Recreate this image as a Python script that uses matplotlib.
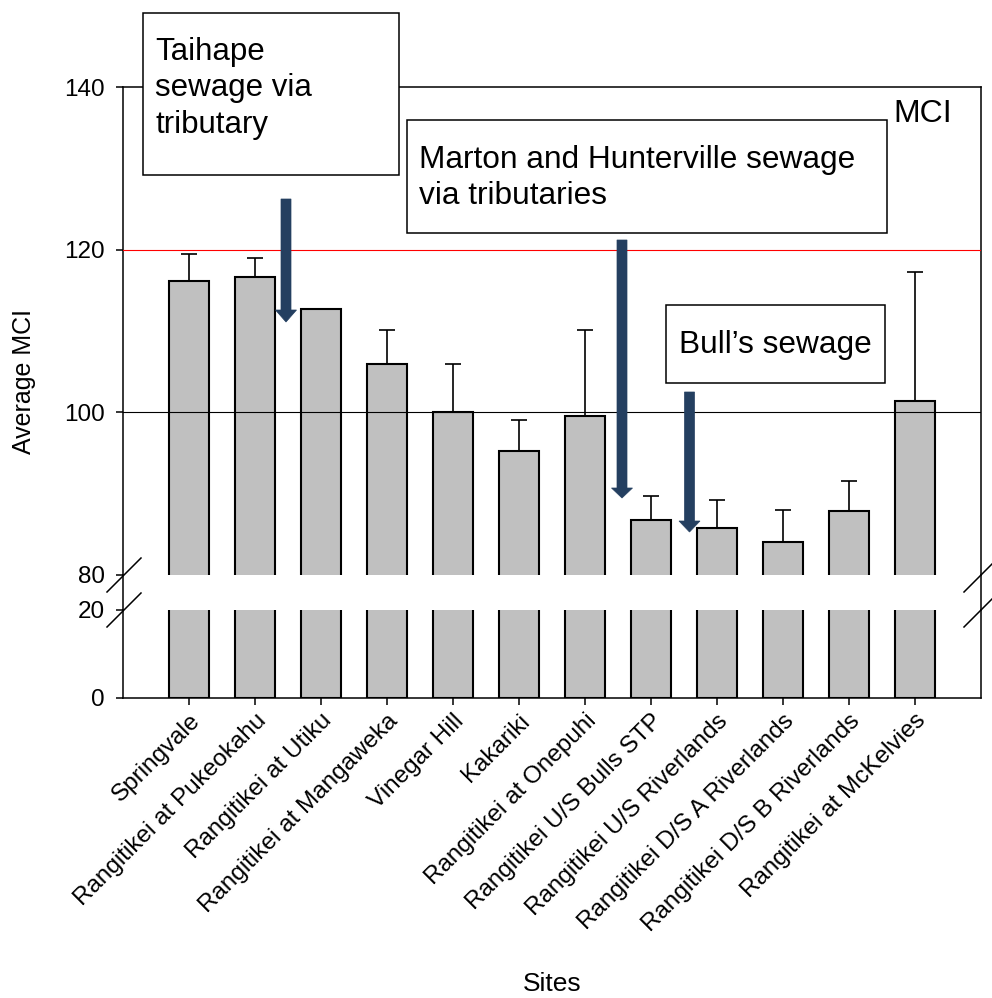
import matplotlib
matplotlib.use("Agg")
import matplotlib.pyplot as plt
from matplotlib.patches import Rectangle, Polygon
from matplotlib.lines import Line2D
import numpy as np

plt.rcParams['font.family'] = ['Liberation Sans', 'DejaVu Sans']

sites = ["Springvale", "Rangitikei at Pukeokahu", "Rangitikei at Utiku",
         "Rangitikei at Mangaweka", "Vinegar Hill", "Kakariki",
         "Rangitikei at Onepuhi", "Rangitikei U/S Bulls STP",
         "Rangitikei U/S Riverlands", "Rangitikei D/S A Riverlands",
         "Rangitikei D/S B Riverlands", "Rangitikei at McKelvies"]
mci_mean = [116.1, 116.7, 112.7, 105.9, 100.1, 95.2, 99.6, 86.8, 85.8, 84.0, 87.9, 101.4]
mci_err = [3.4, 2.25, np.nan, 4.2, 5.8, 3.8, 10.5, 2.9, 3.4, 4.0, 3.6, 15.8]
upper_ticks = [80, 100, 120, 140]
lower_ticks = [0, 20]
ref_good = 120
ref_fair = 100

W, H = 992, 998
fig = plt.figure(figsize=(W / 100, H / 100), dpi=100)

def fx(x):
    return x / W

def fy(y):
    return 1 - y / H

left, right = 123, 981
up_top, up_bot = 87, 575
lo_top, lo_bot = 610, 698

ax_up = fig.add_axes([fx(left), fy(up_bot), fx(right) - fx(left), fy(up_top) - fy(up_bot)])
ax_lo = fig.add_axes([fx(left), fy(lo_bot), fx(right) - fx(left), fy(lo_top) - fy(lo_bot)])

x = np.arange(len(sites))
err = np.array(mci_err)
mask = ~np.isnan(err)
for ax in (ax_up, ax_lo):
    ax.bar(x, mci_mean, width=0.6, color='#C0C0C0', edgecolor='black', linewidth=1.5, zorder=2)
    ax.errorbar(x[mask], np.array(mci_mean)[mask],
                yerr=[np.zeros(mask.sum()), err[mask]],
                fmt='none', ecolor='black', elinewidth=1.2, capsize=6, capthick=1.2, zorder=5)
    ax.set_xlim(-1, len(sites))
    for s in ax.spines.values():
        s.set_linewidth(1.1)
    ax.tick_params(axis='both', direction='out', length=5, width=1.1, labelsize=17.5)
    ax.tick_params(axis='y', pad=8)

ax_up.set_ylim(80, 140)
ax_up.set_yticks(upper_ticks)
ax_up.spines['bottom'].set_visible(False)
ax_up.set_xticks([])
ax_up.axhline(ref_good, color='red', linewidth=0.8, zorder=4)
ax_up.axhline(ref_fair, color='black', linewidth=0.8, zorder=4)

ax_lo.set_ylim(0, 20)
ax_lo.set_yticks(lower_ticks)
ax_lo.spines['top'].set_visible(False)
ax_lo.set_xticks(x)
ax_lo.set_xticklabels(sites, rotation=45, ha='right', rotation_mode='anchor', fontsize=17.5)

# connect spines across the break
for xx in (left, right):
    fig.add_artist(Line2D([fx(xx), fx(xx)], [fy(up_bot), fy(lo_top)], color='black', linewidth=1.1))

# break marks
for (x0, x1) in ((107, 141), (964, 998)):
    for yb in (592, 627):
        fig.add_artist(Line2D([fx(x0), fx(x1)], [fy(yb), fy(yb - 34)], color='black', linewidth=1.1))

fig.text(fx(24), fy(382), "Average MCI", rotation=90, ha='center', va='center', fontsize=18)
fig.text(fx(552), fy(984), "Sites", ha='center', va='center', fontsize=19)
fig.text(fx(923), fy(114), "MCI", ha='center', va='center', fontsize=23)

# annotation boxes
def box(x0, y0, x1, y1):
    fig.add_artist(Rectangle((fx(x0), fy(y1)), fx(x1) - fx(x0), fy(y0) - fy(y1),
                             facecolor='white', edgecolor='black', linewidth=1.1, zorder=5))

box(143, 13, 399, 175)
fig.text(fx(155), fy(37), "Taihape\nsewage via\ntributary", ha='left', va='top',
         fontsize=22.5, linespacing=1.28, zorder=6)
box(407, 120, 887, 233)
fig.text(fx(419), fy(145), "Marton and Hunterville sewage\nvia tributaries", ha='left', va='top',
         fontsize=22.8, linespacing=1.28, zorder=6)
box(666, 305, 885, 383)
fig.text(fx(775), fy(345), "Bull\u2019s sewage", ha='center', va='center', fontsize=22.8, zorder=6)

# arrows
def arrow(xc, ytop, yhead, ytip, sw=5, hw=10.5):
    pts = [(xc - sw, ytop), (xc + sw, ytop), (xc + sw, yhead), (xc + hw, yhead),
           (xc, ytip), (xc - hw, yhead), (xc - sw, yhead)]
    fig.add_artist(Polygon([(fx(a), fy(b)) for a, b in pts], closed=True,
                           facecolor='#243F60', edgecolor='#243F60', linewidth=0.5, zorder=6))

arrow(286, 199, 310, 322)
arrow(622, 240, 488, 498)
arrow(689.5, 392, 521, 532)

fig.savefig("out.png", dpi=100)
